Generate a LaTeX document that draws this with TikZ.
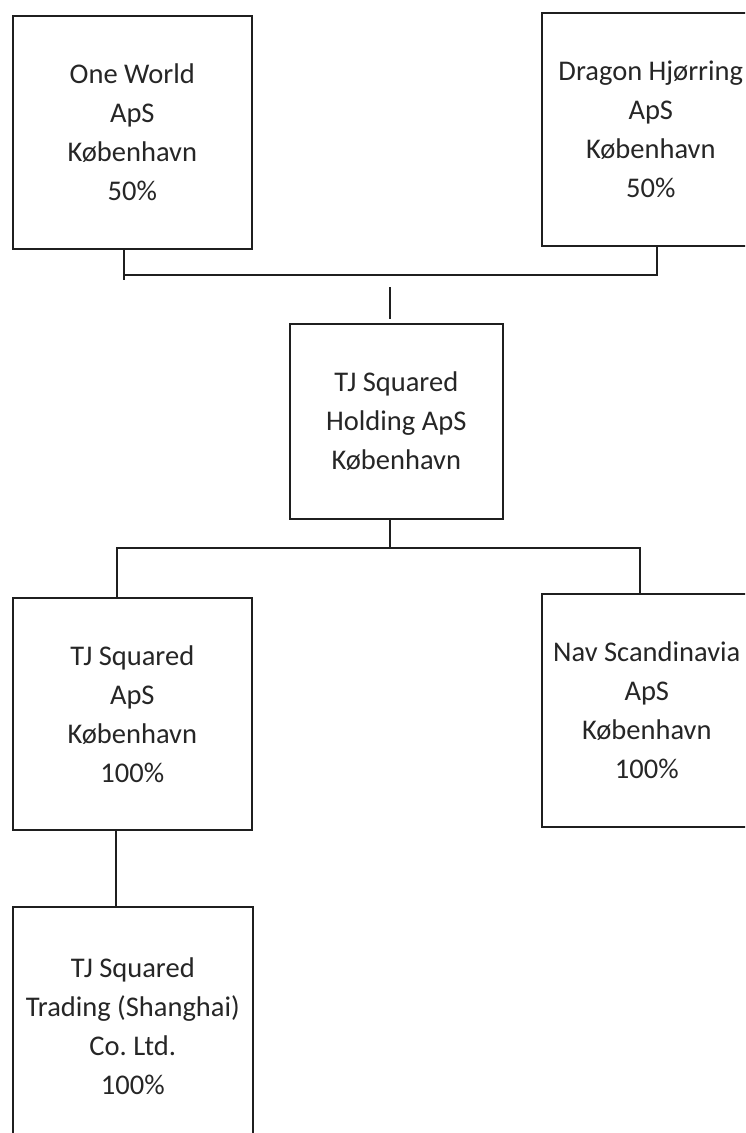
\documentclass[tikz,border=0pt]{standalone}
\usepackage{fontspec}
\setmainfont{Carlito}
\frenchspacing
\begin{document}
\begin{tikzpicture}[x=1pt,y=-1pt,
  box/.style={draw=black!88,line width=1.6pt,rectangle,inner sep=0pt,align=center,
    text=black!85,font=\fontsize{28.5}{39}\selectfont,anchor=north west},
  conn/.style={draw=black!88,line width=1.6pt}]
\useasboundingbox (0,0) rectangle (745,1133);
\clip (0,0) rectangle (745,1133);
\fill[white] (0,0) rectangle (745,1133);
\node[box,minimum width=239pt,minimum height=233pt] (ow) at (12,15) {One World\\ApS\\København\\50\%};
\node[box,minimum width=218pt,minimum height=233pt] (dh) at (541,12) {Dragon Hjørring\\ApS\\København\\50\%};
\node[box,minimum width=213pt,minimum height=195pt] (hold) at (289,323) {TJ Squared\\Holding ApS\\København};
\node[box,minimum width=239pt,minimum height=232pt] (tj) at (12,597) {TJ Squared\\ApS\\København\\100\%};
\node[box,minimum width=210pt,minimum height=233pt] (nav) at (541,593) {Nav Scandinavia\\ApS\\København\\100\%};
\node[box,minimum width=240pt,minimum height=238pt] (sh) at (12,906) {TJ Squared\\Trading (Shanghai)\\Co. Ltd.\\100\%};
\coordinate (owx) at (124,0);
\coordinate (dhx) at (657,0);
\coordinate (bus1l) at (124,275);
\coordinate (bus1r) at (657,275);
\coordinate (stub) at (390,287);
\coordinate (hx) at (390,0);
\coordinate (bus2l) at (117,548);
\coordinate (bus2r) at (640,548);
\coordinate (tjx) at (116,0);
\draw[conn] (ow.south -| owx) -- ([yshift=-5pt]bus1l);
\draw[conn] (bus1l) -- (bus1r) -- (dh.south -| dhx);
\draw[conn] (stub) -- ([yshift=4pt]hold.north -| stub);
\draw[conn] (hold.south -| hx) -- (hx |- bus2l);
\draw[conn] (tj.north -| bus2l) -- (bus2l) -- (bus2r) -- (nav.north -| bus2r);
\draw[conn] (tj.south -| tjx) -- (sh.north -| tjx);
\end{tikzpicture}
\end{document}
